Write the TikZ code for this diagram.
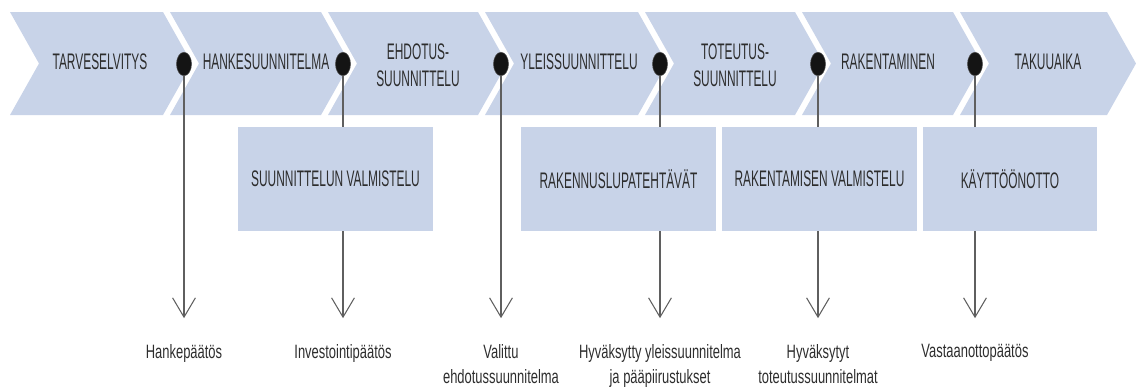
\documentclass[tikz,border=0pt]{standalone}
\usepackage{fontspec}
\setmainfont{Liberation Sans}[FakeStretch=0.67]
\newfontfamily\capsfont{Liberation Sans}[FakeStretch=0.53]
\usepackage{tikz}
\usetikzlibrary{arrows.meta,shapes.geometric}
\definecolor{phaseblue}{RGB}{200,211,232}
\definecolor{inkgray}{RGB}{45,45,45}
\definecolor{linegray}{RGB}{95,95,95}
\def\chevron(#1:#2){\fill[phaseblue] (#1,12) -- ++(#2,0) -- ++(29,51.5) -- ++(-29,51.5) -- ++(-#2,0) -- ++(29,-51.5) -- cycle;}
\tikzset{
	phase/.style={font=\capsfont\fontsize{12.8}{15.3}\selectfont, text=inkgray, align=center, inner sep=0pt},
	taskbox/.style={fill=phaseblue, minimum width=3.9cm, minimum height=2.08cm, inner sep=0pt, font=\capsfont\fontsize{12.8}{15.3}\selectfont, text=inkgray},
	milestone/.style={ellipse, fill=black!92, draw=black!70, line width=0.3pt, minimum width=0.3cm, minimum height=0.47cm, inner sep=0pt},
	outcome/.style={font=\fontsize{11}{14.2}\selectfont, text=inkgray, align=center, inner sep=0pt, anchor=north},
	decision/.style={draw=linegray, line width=0.6pt, -{Straight Barb[length=11pt,width=13pt]}, shorten >=14.7pt}
}

\begin{document}
\begin{tikzpicture}[x=0.02cm, y=-0.02cm]
			%%%%% START %%%%%
			\useasboundingbox (0, 0) rectangle (1136, 392);
			
			\chevron(10:153)
			\chevron(170:151)
			\chevron(328:150)
			\chevron(485:153)
			\chevron(645:150)
			\chevron(802:151)
			\chevron(960:147)
			
			\node[phase] (p1) at (100, 62) {TARVESELVITYS};
			\node[phase] (p2) at (266, 62) {HANKESUUNNITELMA};
			\node[phase] (p3) at (418, 65) {EHDOTUS-\\SUUNNITTELU};
			\node[phase] (p4) at (579, 62) {YLEISSUUNNITTELU};
			\node[phase] (p5) at (735, 65) {TOTEUTUS-\\SUUNNITTELU};
			\node[phase] (p6) at (888, 62) {RAKENTAMINEN};
			\node[phase] (p7) at (1048, 62) {TAKUUAIKA};
			
			\node[milestone] (d1) at (184, 64) {};
			\node[milestone] (d2) at (343, 64) {};
			\node[milestone] (d3) at (501, 64) {};
			\node[milestone] (d4) at (660, 64) {};
			\node[milestone] (d5) at (818, 64) {};
			\node[milestone] (d6) at (975, 64) {};
			
			\node[outcome] (o1) at (184, 344) {Hankepäätös};
			\node[outcome] (o2) at (343, 344) {Investointipäätös};
			\node[outcome] (o3) at (501, 344) {Valittu\\ehdotussuunnitelma};
			\node[outcome] (o4) at (660, 344) {Hyväksytty yleissuunnitelma\\ja pääpiirustukset};
			\node[outcome] (o5) at (818, 344) {Hyväksytyt\\toteutussuunnitelmat};
			\node[outcome] (o6) at (975, 344) {Vastaanottopäätös};
			
			\draw[decision] (d1.south) -- (o1.north);
			\draw[decision] (d2.south) -- (o2.north);
			\draw[decision] (d3.south) -- (o3.north);
			\draw[decision] (d4.south) -- (o4.north);
			\draw[decision] (d5.south) -- (o5.north);
			\draw[decision] (d6.south) -- (o6.north);
			
			\node[taskbox] (t1) at (335.5, 179) {SUUNNITTELUN VALMISTELU};
			\node[taskbox] (t2) at (618.5, 179) {RAKENNUSLUPATEHTÄVÄT};
			\node[taskbox] (t3) at (819.5, 179) {RAKENTAMISEN VALMISTELU};
			\node[taskbox, minimum width=3.48cm] (t4) at (1010, 179) {KÄYTTÖÖNOTTO};
			
			%%%%% END %%%%%
\end{tikzpicture}
\end{document}
